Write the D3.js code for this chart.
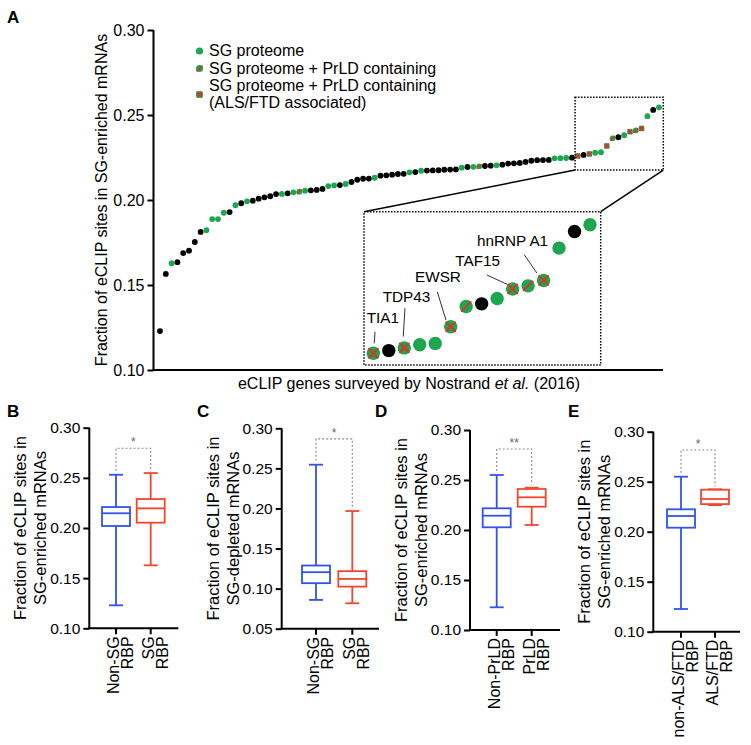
<!DOCTYPE html>
<html><head><meta charset="utf-8">
<script src="https://cdn.jsdelivr.net/npm/d3@7"></script>
<style>body{margin:0;background:#fff}svg{display:block}text{font-family:"Liberation Sans",Arial,Helvetica,sans-serif}</style>
</head><body><svg id="c" width="751" height="745"></svg>
<script>
// ---------- DATA ----------
// Panel A: fraction of eCLIP sites in SG-enriched mRNAs, sorted (87 RBPs)
const aValues = [
 0.1229,0.1565,0.1628,0.1634,0.1688,0.1702,0.1753,0.1812,0.1822,0.1888,
 0.1888,0.1925,0.1929,0.1969,0.1981,0.1992,0.1996,0.2008,0.2016,0.2022,
 0.2035,0.2036,0.2039,0.2045,0.2049,0.2055,0.2057,0.2059,0.2065,0.2082,
 0.2086,0.2088,0.2094,0.2106,0.2119,0.2125,0.2126,0.2131,0.2143,0.2145,
 0.2149,0.2153,0.2154,0.2163,0.2164,0.2172,0.2173,0.2174,0.2175,0.2178,
 0.2179,0.2180,0.2190,0.2194,0.2195,0.2198,0.2200,0.2202,0.2204,0.2208,
 0.2214,0.2216,0.2218,0.2224,0.2231,0.2234,0.2235,0.2236,0.2245,0.2246,
 0.2247,0.2249,0.2259,0.2265,0.2271,0.2278,0.2281,0.2318,0.2363,0.2369,
 0.2381,0.2402,0.2409,0.2421,0.2493,0.2530,0.2545];
// B = not in SG proteome, G = SG proteome, P = SG + PrLD, A = SG + PrLD (ALS/FTD)
const aGroups = [
 "B","B","G","B","B","B","B","B","G","G",
 "G","G","B","G","B","G","B","B","B","B",
 "B","G","B","G","P","G","B","B","B","G",
 "G","B","G","B","B","B","B","G","B","B",
 "B","B","B","G","B","G","B","B","B","B",
 "B","B","G","B","G","P","B","B","G","B",
 "B","B","B","B","B","B","B","B","G","G",
 "G","B","A","B","A","G","G","A","P","B",
 "G","A","P","A","G","B","G"];
const insetFirst = 73, insetLast = 87;            // 1-based ranks shown in the inset
const insetLabelRanks = [73, 75, 78, 82, 84];
const insetLabelNames = ["TIA1", "TDP43", "EWSR", "TAF15", "hnRNP A1"];
const aTicks = [0.10, 0.15, 0.20, 0.25, 0.30];
const legendLabels = ["SG proteome", "SG proteome + PrLD containing", "SG proteome + PrLD containing", "(ALS/FTD associated)"];

// Panels B-E: box stats [min, q1, median, q3, max]
const panelLetters = ["B", "C", "D", "E"];
const panelYTitles2 = ["SG-enriched mRNAs", "SG-depleted mRNAs", "SG-enriched mRNAs", "SG-enriched mRNAs"];
const panelCats = [["Non-SG", "SG"], ["Non-SG", "SG"], ["Non-PrLD", "PrLD"], ["non-ALS/FTD", "ALS/FTD"]];
const boxB = [[0.1229, 0.2020, 0.2147, 0.2209, 0.2531], [0.1628, 0.2053, 0.2196, 0.2289, 0.2548]];
const boxC = [[0.0859, 0.1068, 0.1205, 0.1288, 0.2546], [0.0817, 0.1025, 0.1121, 0.1218, 0.1968]];
const boxD = [[0.1227, 0.2027, 0.2143, 0.2217, 0.2550], [0.2050, 0.2233, 0.2327, 0.2410, 0.2423]];
const boxE = [[0.1227, 0.2040, 0.2157, 0.2224, 0.2550], [0.2266, 0.2276, 0.2327, 0.2420, 0.2424]];
const ticksBDE = [0.10, 0.15, 0.20, 0.25, 0.30];
const ticksC = [0.05, 0.10, 0.15, 0.20, 0.25, 0.30];
const sigStars = ["*", "*", "**", "*"];
const sigLevels = [0.2795, 0.2868, 0.2810, 0.2817];

// ---------- STYLE ----------
const GREEN = "#1ca64f", RED = "#d8342a", BLUE = "#3153ee", ORANGE = "#f4462f";
const svg = d3.select("#c");
const fmt = d3.format(".2f");

function marker(g, cx, cy, r, grp, h, sw) {
  g.append("circle").attr("cx", cx).attr("cy", cy).attr("r", r)
    .attr("fill", grp === "B" ? "#000" : GREEN);
  if (grp === "P" || grp === "A") {
    g.append("line").attr("x1", cx - h).attr("y1", cy + h).attr("x2", cx + h).attr("y2", cy - h)
      .attr("stroke", RED).attr("stroke-width", sw).attr("stroke-linecap", "round");
  }
  if (grp === "A") {
    g.append("line").attr("x1", cx - h).attr("y1", cy - h).attr("x2", cx + h).attr("y2", cy + h)
      .attr("stroke", RED).attr("stroke-width", sw).attr("stroke-linecap", "round");
  }
}

// ---------- PANEL A ----------
const ax = d3.scaleLinear().domain([1, aValues.length]).range([160, 659]);
const ay = d3.scaleLinear().domain([0.10, 0.30]).range([370, 30]);
const A = svg.append("g");

A.append("text").attr("x", 7).attr("y", 23).attr("font-size", 17).attr("font-weight", "bold").text("A");

const yAxA = A.append("g").attr("transform", "translate(153.5,0)")
  .call(d3.axisLeft(ay).tickValues(aTicks).tickFormat(fmt).tickSize(6).tickPadding(3));
yAxA.select(".domain").attr("stroke-width", 2).attr("d", `M0,${ay(0.30)}V${ay(0.10)}`);
yAxA.selectAll(".tick line").attr("stroke-width", 2);
yAxA.selectAll(".tick text").attr("font-size", 16).attr("font-family", "Liberation Sans, Arial, sans-serif").attr("fill", "#000");
A.append("line").attr("x1", 152.5).attr("x2", 663).attr("y1", 370).attr("y2", 370).attr("stroke", "#000").attr("stroke-width", 2);

A.append("text").attr("transform", `translate(107,${(ay(0.10) + ay(0.30)) / 2}) rotate(-90)`)
  .attr("text-anchor", "middle").attr("font-size", 16).text("Fraction of eCLIP sites in SG-enriched mRNAs");
const xt = A.append("text").attr("x", 409).attr("y", 389).attr("text-anchor", "middle").attr("font-size", 16);
xt.append("tspan").text("eCLIP genes surveyed by Nostrand ");
xt.append("tspan").attr("font-style", "italic").text("et al.");
xt.append("tspan").text(" (2016)");

// legend
const legG = A.append("g");
const legRows = [
  {y: 51, grp: "G", text: [legendLabels[0]], base: 56},
  {y: 68.5, grp: "P", text: [legendLabels[1]], base: 73.5},
  {y: 94.5, grp: "A", text: [legendLabels[2], legendLabels[3]], base: 90.5}
];
legRows.forEach(r => {
  marker(legG, 199.5, r.y, 3.6, r.grp, 2.4, 1.5);
  r.text.forEach((t, i) => legG.append("text").attr("x", 209).attr("y", r.base + i * 17.5).attr("font-size", 16).text(t));
});

// points
const ptsG = A.append("g");
aValues.forEach((v, i) => marker(ptsG, ax(i + 1), ay(v), 2.9, aGroups[i], 1.9, 1.5));

// zoom box in main plot
const zb = {x0: ax(insetFirst) - 2.7, x1: ax(insetLast) + 4.3, y0: ay(0.2605), y1: ay(0.2176)};
const ib = {x0: 364, x1: 600.7, y0: 211.7, y1: 365};
A.append("rect").attr("x", zb.x0).attr("y", zb.y0).attr("width", zb.x1 - zb.x0).attr("height", zb.y1 - zb.y0)
  .attr("fill", "none").attr("stroke", "#000").attr("stroke-width", 1.5).attr("stroke-dasharray", "1.5,1.5");
A.append("rect").attr("x", ib.x0).attr("y", ib.y0).attr("width", ib.x1 - ib.x0).attr("height", ib.y1 - ib.y0)
  .attr("fill", "none").attr("stroke", "#000").attr("stroke-width", 1.5).attr("stroke-dasharray", "1.5,1.5");
A.append("line").attr("x1", zb.x0).attr("y1", zb.y1).attr("x2", ib.x0).attr("y2", ib.y0).attr("stroke", "#000").attr("stroke-width", 1.5);
A.append("line").attr("x1", zb.x1).attr("y1", zb.y1).attr("x2", ib.x1).attr("y2", ib.y0).attr("stroke", "#000").attr("stroke-width", 1.5);

// inset
const ix = d3.scaleLinear().domain([insetFirst, insetLast]).range([373.3, 590]);
const iy = d3.scaleLinear().domain([aValues[insetFirst - 1], aValues[insetLast - 1]]).range([353.3, 224.7]);
const inG = A.append("g");
for (let k = insetFirst; k <= insetLast; k++) marker(inG, ix(k), iy(aValues[k - 1]), 6.7, aGroups[k - 1], 4.4, 2);
const labelLayout = [ // [text dx, baseline dy, leader x1,y1,x2,y2] relative to point
  [-6.6, -30, 1.7, -21.6, 1, -10],
  [-21.6, -46.3, 0.7, -39.7, -1, -11.3],
  [-35.7, -45, -13.4, -35, -4.7, -6.7],
  [-57.3, -23, -25.6, -14, -5.6, -4.7],
  [-66.6, -34, -19.3, -25.7, -6.6, -7.4]
];
insetLabelRanks.forEach((rk, j) => {
  const px = ix(rk), py = iy(aValues[rk - 1]), L = labelLayout[j];
  inG.append("text").attr("x", px + L[0]).attr("y", py + L[1]).attr("font-size", 15.3).text(insetLabelNames[j]);
  inG.append("line").attr("x1", px + L[2]).attr("y1", py + L[3]).attr("x2", px + L[4]).attr("y2", py + L[5])
    .attr("stroke", "#333").attr("stroke-width", 1);
});

// ---------- PANELS B-E ----------
const panelLayout = [
  {axX: 89.3, xEnd: 178.3, yLo: 628.3, yHi: 427.7, dom: [0.10, 0.30], ticks: ticksBDE, c: [116, 150.7], box: boxB, lx: 7},
  {axX: 281.7, xEnd: 379, yLo: 628.7, yHi: 428.3, dom: [0.05, 0.30], ticks: ticksC, c: [316, 352.3], box: boxC, lx: 197},
  {axX: 470, xEnd: 560, yLo: 630, yHi: 430, dom: [0.10, 0.30], ticks: ticksBDE, c: [496.7, 531.7], box: boxD, lx: 375},
  {axX: 653.3, xEnd: 740, yLo: 631.7, yHi: 431.7, dom: [0.10, 0.30], ticks: ticksBDE, c: [681, 715], box: boxE, lx: 568}
];
panelLayout.forEach((p, pi) => {
  const g = svg.append("g");
  const y = d3.scaleLinear().domain(p.dom).range([p.yLo, p.yHi]);
  const x = d3.scaleOrdinal().domain(panelCats[pi]).range(p.c);
  g.append("text").attr("x", p.lx).attr("y", 417).attr("font-size", 17).attr("font-weight", "bold").text(panelLetters[pi]);
  const yA = g.append("g").attr("transform", `translate(${p.axX},0)`)
    .call(d3.axisLeft(y).tickValues(p.ticks).tickFormat(fmt).tickSize(6).tickPadding(3));
  yA.select(".domain").attr("stroke-width", 2).attr("d", `M0,${p.yHi}V${p.yLo}`);
  yA.selectAll(".tick line").attr("stroke-width", 2);
  yA.selectAll(".tick text").attr("font-size", 15.5).attr("font-family", "Liberation Sans, Arial, sans-serif").attr("fill", "#000");
  g.append("line").attr("x1", p.axX - 1).attr("x2", p.xEnd).attr("y1", p.yLo).attr("y2", p.yLo).attr("stroke", "#000").attr("stroke-width", 2);
  const mid = (p.yLo + p.yHi) / 2;
  g.append("text").attr("transform", `translate(${p.axX - 63},${mid}) rotate(-90)`).attr("text-anchor", "middle")
    .attr("font-size", 16.5).text("Fraction of eCLIP sites in");
  g.append("text").attr("transform", `translate(${p.axX - 43},${mid}) rotate(-90)`).attr("text-anchor", "middle")
    .attr("font-size", 16.5).text(panelYTitles2[pi]);
  panelCats[pi].forEach((cat, ci) => {
    const cx = x(cat), s = p.box[ci], col = ci === 0 ? BLUE : ORANGE;
    g.append("line").attr("x1", cx).attr("x2", cx).attr("y1", p.yLo).attr("y2", p.yLo + 6).attr("stroke", "#000").attr("stroke-width", 2);
    const t = g.append("text").attr("transform", `translate(${cx},${p.yLo + 8}) rotate(-90)`).attr("text-anchor", "end").attr("font-size", 16);
    t.append("tspan").attr("x", 0).attr("y", 3).text(cat);
    t.append("tspan").attr("x", 0).attr("y", 17).text("RBP");
    const bw = 28, cw = 14;
    const st = {stroke: col, "stroke-width": 1.8, fill: "none"};
    const L = (x1, y1, x2, y2) => { const l = g.append("line").attr("x1", x1).attr("y1", y1).attr("x2", x2).attr("y2", y2); Object.entries(st).forEach(([k, v]) => l.attr(k, v)); };
    L(cx, y(s[0]), cx, y(s[1]));
    L(cx, y(s[3]), cx, y(s[4]));
    L(cx - cw / 2, y(s[0]), cx + cw / 2, y(s[0]));
    L(cx - cw / 2, y(s[4]), cx + cw / 2, y(s[4]));
    const r = g.append("rect").attr("x", cx - bw / 2).attr("y", y(s[3])).attr("width", bw).attr("height", y(s[1]) - y(s[3]));
    Object.entries(st).forEach(([k, v]) => r.attr(k, v));
    L(cx - bw / 2, y(s[2]), cx + bw / 2, y(s[2]));
  });
  // significance bracket
  const yb = y(sigLevels[pi]), c0 = p.c[0], c1 = p.c[1];
  const top0 = y(p.box[0][4]) - 4, top1 = y(p.box[1][4]) - 3;
  g.append("path").attr("d", `M${c0},${top0}V${yb}H${c1}V${top1}`).attr("fill", "none")
    .attr("stroke", "#8a8a8a").attr("stroke-width", 1.1).attr("stroke-dasharray", "2,2");
  g.append("text").attr("x", (c0 + c1) / 2).attr("y", yb - 2).attr("text-anchor", "middle")
    .attr("font-size", 12).attr("fill", "#666").text(sigStars[pi]);
});
</script></body></html>
